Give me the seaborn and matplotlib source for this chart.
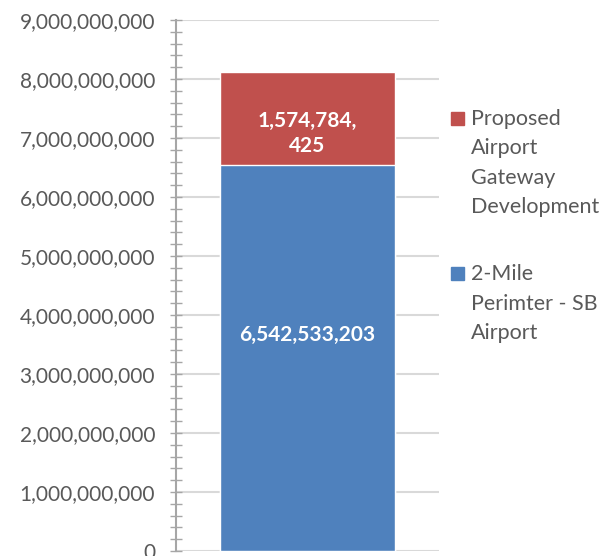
"""Stacked bar: 2-mile perimeter vs proposed airport gateway development."""

import matplotlib.pyplot as plt
import seaborn as sns
import pandas as pd
from matplotlib.patches import Rectangle
from matplotlib.ticker import FuncFormatter, MultipleLocator

series = ["2-Mile\nPerimter - SB\nAirport", "Proposed\nAirport\nGateway\nDevelopment"]
values = [6542533203, 1574784425]
value_labels = ["6,542,533,203", "1,574,784,\n425"]
colors = ["#4F81BD", "#C0504D"]

sns.set_theme(style="white")
plt.rcParams["font.family"] = ["Lato", "DejaVu Sans"]

fig = plt.figure(figsize=(6.11, 5.56), dpi=100)
ax = fig.add_axes([0.288, 0.009, 0.4305, 0.955])

# stacked: draw the total first, then the lower segment on top of it
bottoms = [0, values[0]]
totals = [values[0], values[0] + values[1]]
df = pd.DataFrame({"cat": [""], "total": [totals[1]], "base": [totals[0]]})
sns.barplot(data=df, x="cat", y="total", color=colors[1], width=0.665,
            saturation=1, ax=ax, zorder=3)
sns.barplot(data=df, x="cat", y="base", color=colors[0], width=0.665,
            saturation=1, ax=ax, zorder=3)

label_frac = [0.56, 0.34]
for b, v, lab, f in zip(bottoms, values, value_labels, label_frac):
    ax.text(0, b + v * f, lab, ha="center", va="center", color="white",
            fontsize=15, fontweight="bold", linespacing=1.3, zorder=4)

ax.set_ylim(0, 9e9)
ax.set_xlim(-0.5, 0.5)
ax.yaxis.set_major_locator(MultipleLocator(1e9))
ax.yaxis.set_minor_locator(MultipleLocator(2e8))
ax.yaxis.set_major_formatter(FuncFormatter(lambda v, p: f"{v:,.0f}"))
ax.grid(axis="y", which="major", color="#D9D9D9", linewidth=1.5, zorder=0)
ax.tick_params(axis="y", which="both", direction="inout", length=8, width=1,
               color="#A6A6A6", labelsize=15, labelcolor="#595959", pad=11, left=True)
ax.set_xticks([])
ax.set_xlabel("")
ax.set_ylabel("")
for s in ["top", "right", "bottom"]:
    ax.spines[s].set_visible(False)
ax.spines["left"].set_color("#A6A6A6")
ax.spines["left"].set_linewidth(1.5)

# legend drawn by hand so the swatch sits beside the first line
W, H = 611, 556
entries = [(series[1], colors[1], 125), (series[0], colors[0], 280)]
for text, c, base in entries:
    fig.add_artist(Rectangle((451 / W, 1 - (base) / H), 13 / W, 13 / H,
                             transform=fig.transFigure, color=c))
    for i, line in enumerate(text.split("\n")):
        fig.text(471 / W, 1 - (base + i * 29.5) / H, line, ha="left",
                 va="baseline", fontsize=15.5, color="#595959")

fig.savefig("out.png", dpi=100)
